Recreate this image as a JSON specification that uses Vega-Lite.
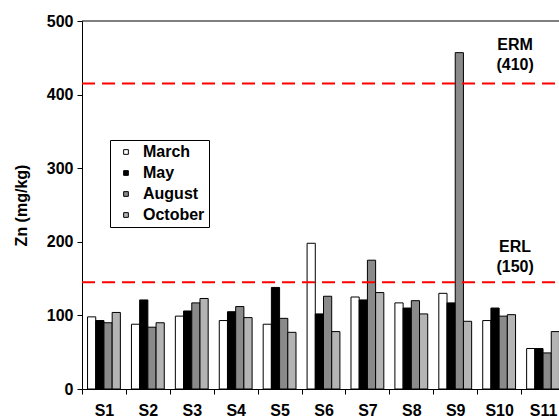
{
  "$schema": "https://vega.github.io/schema/vega-lite/v6.json",
  "width": 477,
  "height": 368,
  "autosize": {"type": "none"},
  "padding": {"left": 82, "top": 21, "right": 0, "bottom": 29},
  "config": {
    "view": {"stroke": null},
    "font": "Liberation Sans",
    "axis": {"labelFont": "Liberation Sans", "titleFont": "Liberation Sans", "labelColor": "black", "titleColor": "black", "domainColor": "black", "tickColor": "black"}
  },
  "datasets": {
    "zn": [
      {"site": "S1", "month": "March", "zn": 98},
      {"site": "S1", "month": "May", "zn": 93},
      {"site": "S1", "month": "August", "zn": 90},
      {"site": "S1", "month": "October", "zn": 104},
      {"site": "S2", "month": "March", "zn": 88},
      {"site": "S2", "month": "May", "zn": 121},
      {"site": "S2", "month": "August", "zn": 84},
      {"site": "S2", "month": "October", "zn": 90},
      {"site": "S3", "month": "March", "zn": 99},
      {"site": "S3", "month": "May", "zn": 106},
      {"site": "S3", "month": "August", "zn": 117},
      {"site": "S3", "month": "October", "zn": 123},
      {"site": "S4", "month": "March", "zn": 93},
      {"site": "S4", "month": "May", "zn": 105},
      {"site": "S4", "month": "August", "zn": 112},
      {"site": "S4", "month": "October", "zn": 97},
      {"site": "S5", "month": "March", "zn": 88},
      {"site": "S5", "month": "May", "zn": 138},
      {"site": "S5", "month": "August", "zn": 96},
      {"site": "S5", "month": "October", "zn": 77},
      {"site": "S6", "month": "March", "zn": 198},
      {"site": "S6", "month": "May", "zn": 102},
      {"site": "S6", "month": "August", "zn": 126},
      {"site": "S6", "month": "October", "zn": 78},
      {"site": "S7", "month": "March", "zn": 125},
      {"site": "S7", "month": "May", "zn": 121},
      {"site": "S7", "month": "August", "zn": 175},
      {"site": "S7", "month": "October", "zn": 131},
      {"site": "S8", "month": "March", "zn": 117},
      {"site": "S8", "month": "May", "zn": 110},
      {"site": "S8", "month": "August", "zn": 120},
      {"site": "S8", "month": "October", "zn": 102},
      {"site": "S9", "month": "March", "zn": 130},
      {"site": "S9", "month": "May", "zn": 117},
      {"site": "S9", "month": "August", "zn": 457},
      {"site": "S9", "month": "October", "zn": 92},
      {"site": "S10", "month": "March", "zn": 93},
      {"site": "S10", "month": "May", "zn": 110},
      {"site": "S10", "month": "August", "zn": 99},
      {"site": "S10", "month": "October", "zn": 101},
      {"site": "S11", "month": "March", "zn": 55},
      {"site": "S11", "month": "May", "zn": 55},
      {"site": "S11", "month": "August", "zn": 49},
      {"site": "S11", "month": "October", "zn": 78}
    ],
    "limits": [
      {"name": "ERL", "zn": 145},
      {"name": "ERM", "zn": 415}
    ],
    "notes": [
      {"site": "S10", "zn": 467, "label": "ERM"},
      {"site": "S10", "zn": 440, "label": "(410)"},
      {"site": "S10", "zn": 193, "label": "ERL"},
      {"site": "S10", "zn": 166, "label": "(150)"}
    ]
  },
  "layer": [
    {
      "data": {"name": "zn"},
      "mark": {"type": "bar", "stroke": "black", "strokeWidth": 1, "clip": true},
      "encoding": {
        "x": {
          "field": "site", "type": "nominal",
          "sort": ["S1","S2","S3","S4","S5","S6","S7","S8","S9","S10","S11"],
          "scale": {"range": [0, 483], "paddingInner": 0, "paddingOuter": 0},
          "axis": {"title": null, "labelAngle": 0, "tickBand": "extent", "tickSize": 5, "labelPadding": 8, "labelFontSize": 16, "labelFontWeight": "bold", "domainWidth": 1}
        },
        "xOffset": {
          "field": "month", "type": "nominal",
          "sort": ["March", "May", "August", "October"],
          "scale": {"paddingInner": 0, "paddingOuter": 0.675}
        },
        "y": {
          "field": "zn", "type": "quantitative",
          "scale": {"domain": [0, 500], "nice": false},
          "axis": {"title": "Zn (mg/kg)", "values": [0,100,200,300,400,500], "grid": false, "tickSize": 5, "labelPadding": 4, "labelFontSize": 16, "labelFontWeight": "bold", "titleFontSize": 16, "titleFontWeight": "bold", "titlePadding": 17}
        },
        "fill": {
          "field": "month", "type": "nominal",
          "sort": ["March", "May", "August", "October"],
          "scale": {"domain": ["March", "May", "August", "October"], "range": ["#ffffff", "#000000", "#8a8a8a", "#b4b4b4"]},
          "legend": {
            "title": null, "orient": "none", "legendX": 28, "legendY": 119,
            "strokeColor": "black", "fillColor": "white", "padding": 4,
            "symbolType": "square", "symbolSize": 22, "symbolStrokeColor": "black", "symbolStrokeWidth": 1, "symbolOffset": 4,
            "labelFontSize": 16, "labelFontWeight": "bold", "labelColor": "black", "labelFont": "Liberation Sans",
            "labelOffset": 9, "rowPadding": 5
          }
        }
      }
    },
    {
      "data": {"name": "limits"},
      "mark": {"type": "rule", "color": "#ff0000", "strokeWidth": 2, "strokeDash": [13, 7], "strokeDashOffset": -4},
      "encoding": {"y": {"field": "zn", "type": "quantitative"}}
    },
    {
      "data": {"values": [{"zn": 500}]},
      "mark": {"type": "rule", "color": "black", "strokeWidth": 1},
      "encoding": {"y": {"field": "zn", "type": "quantitative"}}
    },
    {
      "data": {"name": "notes"},
      "mark": {"type": "text", "font": "Liberation Sans", "fontSize": 16, "fontWeight": "bold", "color": "black", "baseline": "middle", "align": "center", "dx": -6},
      "encoding": {
        "x": {"field": "site", "type": "nominal", "sort": ["S1","S2","S3","S4","S5","S6","S7","S8","S9","S10","S11"], "bandPosition": 1},
        "y": {"field": "zn", "type": "quantitative"},
        "text": {"field": "label"}
      }
    }
  ]
}
